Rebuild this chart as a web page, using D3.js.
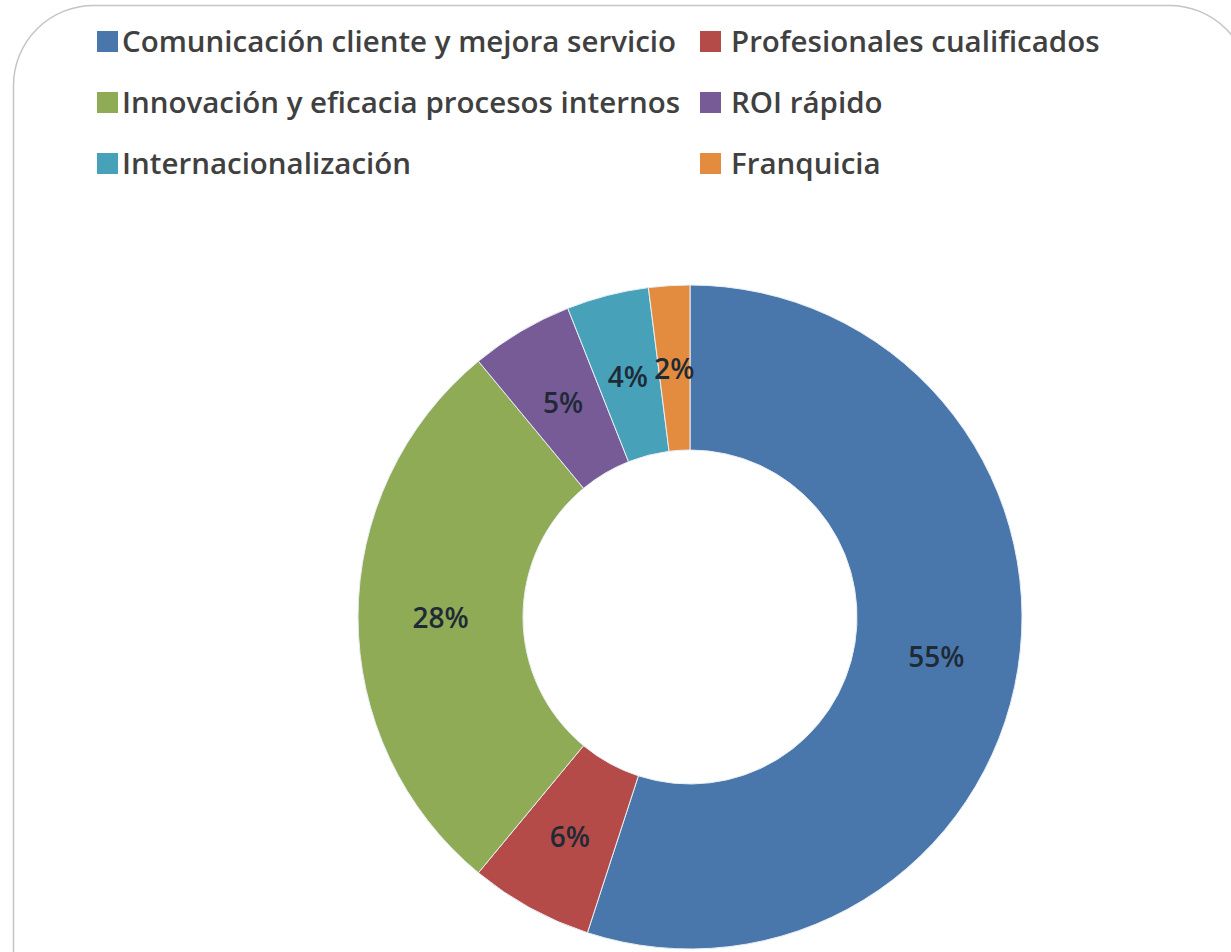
<!DOCTYPE html>
<html><head><meta charset="utf-8">
<script src="https://cdn.jsdelivr.net/npm/d3@7"></script>
<style>html,body{margin:0;padding:0;background:#fff;}svg{display:block;}</style>
</head><body>
<svg id="chart" width="1231" height="952"></svg>
<script>
const categories = ["Comunicación cliente y mejora servicio","Profesionales cualificados","Innovación y eficacia procesos internos","ROI rápido","Internacionalización","Franquicia"];
const values = [55, 6, 28, 5, 4, 2];
const labels = ["55%","6%","28%","5%","4%","2%"];
const colors = ["#4a77ab","#b54b48","#8fab55","#775b97","#46a1b9","#e38c3f"];
const legendOrder = [0,1,2,3,4,5];

const svg = d3.select("#chart");
svg.append("rect").attr("x",13.5).attr("y",5.5).attr("width",1236).attr("height",1100)
  .attr("rx",80).attr("ry",80).attr("fill","#fff").attr("stroke","#c4c4c4").attr("stroke-width",1.5);

const cx = 690, cy = 617, rOut = 332, rIn = 167;
const pie = d3.pie().value(d=>d).sort(null);
const arc = d3.arc().innerRadius(rIn).outerRadius(rOut);
const g = svg.append("g").attr("transform",`translate(${cx},${cy})`);
const arcs = pie(values);
g.selectAll("path").data(arcs).join("path")
  .attr("d",arc).attr("fill",(d,i)=>colors[i]).attr("stroke","#e8eef4").attr("stroke-width",1);
g.selectAll("text").data(arcs).join("text")
  .attr("transform",d=>`translate(${arc.centroid(d)})`)
  .attr("text-anchor","middle").attr("dy","0.4em")
  .attr("font-family","Open Sans, sans-serif").attr("font-weight",600).attr("font-size",28)
  .attr("fill","#1f2a36")
  .text((d,i)=>labels[i]);

const colX = [97, 700], textOff = [25, 31], rowY = [41, 102, 163];
const leg = svg.append("g");
legendOrder.forEach((idx,k)=>{
  const col = k%2, row = Math.floor(k/2);
  const x = colX[col], y = rowY[row];
  leg.append("rect").attr("x",x).attr("y",y-10).attr("width",21).attr("height",21).attr("fill",colors[idx]);
  leg.append("text").attr("x",x+textOff[col]).attr("y",y).attr("dy","0.36em")
    .attr("font-family","Open Sans, sans-serif").attr("font-weight",600).attr("font-size",29.5)
    .attr("fill","#404040").text(categories[idx]);
});
</script>
</body></html>
